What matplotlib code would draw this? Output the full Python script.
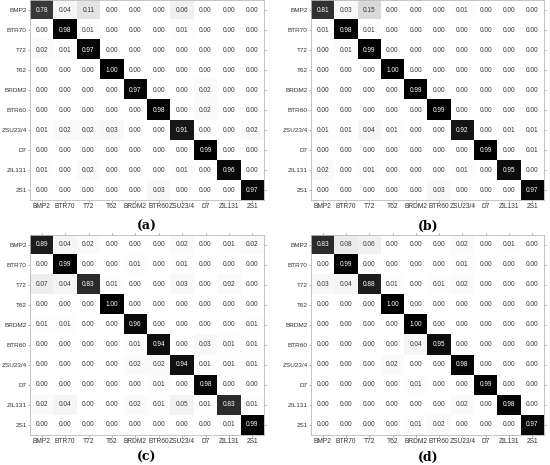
import numpy as np
import matplotlib
matplotlib.use("Agg")
from matplotlib import pyplot as plt

classes = ["BMP2", "BTR70", "T72", "T62", "BRDM2", "BTR60", "ZSU23/4", "D7", "ZIL131", "2S1"]

cm_a = [
    [0.78, 0.04, 0.11, 0.00, 0.00, 0.00, 0.06, 0.00, 0.00, 0.00],
    [0.00, 0.98, 0.01, 0.00, 0.00, 0.00, 0.01, 0.00, 0.00, 0.00],
    [0.02, 0.01, 0.97, 0.00, 0.00, 0.00, 0.00, 0.00, 0.00, 0.00],
    [0.00, 0.00, 0.00, 1.00, 0.00, 0.00, 0.00, 0.00, 0.00, 0.00],
    [0.00, 0.00, 0.00, 0.00, 0.97, 0.00, 0.00, 0.02, 0.00, 0.00],
    [0.00, 0.00, 0.00, 0.00, 0.00, 0.98, 0.00, 0.02, 0.00, 0.00],
    [0.01, 0.02, 0.02, 0.03, 0.00, 0.00, 0.91, 0.00, 0.00, 0.02],
    [0.00, 0.00, 0.00, 0.00, 0.00, 0.00, 0.00, 0.99, 0.00, 0.00],
    [0.01, 0.00, 0.02, 0.00, 0.00, 0.00, 0.01, 0.00, 0.96, 0.00],
    [0.00, 0.00, 0.00, 0.00, 0.00, 0.03, 0.00, 0.00, 0.00, 0.97],
]
cm_b = [
    [0.81, 0.03, 0.15, 0.00, 0.00, 0.00, 0.01, 0.00, 0.00, 0.00],
    [0.01, 0.98, 0.01, 0.00, 0.00, 0.00, 0.00, 0.00, 0.00, 0.00],
    [0.00, 0.01, 0.99, 0.00, 0.00, 0.00, 0.00, 0.00, 0.00, 0.00],
    [0.00, 0.00, 0.00, 1.00, 0.00, 0.00, 0.00, 0.00, 0.00, 0.00],
    [0.00, 0.00, 0.00, 0.00, 0.99, 0.00, 0.00, 0.00, 0.00, 0.00],
    [0.00, 0.00, 0.00, 0.00, 0.00, 0.99, 0.00, 0.00, 0.00, 0.00],
    [0.01, 0.01, 0.04, 0.01, 0.00, 0.00, 0.92, 0.00, 0.01, 0.01],
    [0.00, 0.00, 0.00, 0.00, 0.00, 0.00, 0.00, 0.99, 0.00, 0.01],
    [0.02, 0.00, 0.01, 0.00, 0.00, 0.00, 0.01, 0.00, 0.95, 0.00],
    [0.00, 0.00, 0.00, 0.00, 0.00, 0.03, 0.00, 0.00, 0.00, 0.97],
]
cm_c = [
    [0.89, 0.04, 0.02, 0.00, 0.00, 0.00, 0.02, 0.00, 0.01, 0.02],
    [0.00, 0.99, 0.00, 0.00, 0.01, 0.00, 0.01, 0.00, 0.00, 0.00],
    [0.07, 0.04, 0.83, 0.01, 0.00, 0.00, 0.03, 0.00, 0.02, 0.00],
    [0.00, 0.00, 0.00, 1.00, 0.00, 0.00, 0.00, 0.00, 0.00, 0.00],
    [0.01, 0.01, 0.00, 0.00, 0.96, 0.00, 0.00, 0.00, 0.00, 0.01],
    [0.00, 0.00, 0.00, 0.00, 0.01, 0.94, 0.00, 0.03, 0.01, 0.01],
    [0.00, 0.00, 0.00, 0.00, 0.02, 0.02, 0.94, 0.01, 0.01, 0.01],
    [0.00, 0.00, 0.00, 0.00, 0.00, 0.01, 0.00, 0.98, 0.00, 0.00],
    [0.02, 0.04, 0.00, 0.00, 0.02, 0.01, 0.05, 0.01, 0.83, 0.01],
    [0.00, 0.00, 0.00, 0.00, 0.00, 0.00, 0.00, 0.00, 0.01, 0.99],
]
cm_d = [
    [0.83, 0.08, 0.06, 0.00, 0.00, 0.00, 0.02, 0.00, 0.01, 0.00],
    [0.00, 0.99, 0.00, 0.00, 0.00, 0.00, 0.01, 0.00, 0.00, 0.00],
    [0.03, 0.04, 0.88, 0.01, 0.00, 0.01, 0.02, 0.00, 0.00, 0.00],
    [0.00, 0.00, 0.00, 1.00, 0.00, 0.00, 0.00, 0.00, 0.00, 0.00],
    [0.00, 0.00, 0.00, 0.00, 1.00, 0.00, 0.00, 0.00, 0.00, 0.00],
    [0.00, 0.00, 0.00, 0.00, 0.04, 0.95, 0.00, 0.00, 0.00, 0.00],
    [0.00, 0.00, 0.00, 0.02, 0.00, 0.00, 0.98, 0.00, 0.00, 0.00],
    [0.00, 0.00, 0.00, 0.00, 0.01, 0.00, 0.00, 0.99, 0.00, 0.00],
    [0.00, 0.00, 0.00, 0.00, 0.00, 0.00, 0.02, 0.00, 0.98, 0.00],
    [0.00, 0.00, 0.00, 0.00, 0.01, 0.02, 0.00, 0.00, 0.00, 0.97],
]
captions = ["(a)", "(b)", "(c)", "(d)"]

W, H = 550, 465
fig = plt.figure(figsize=(W / 100, H / 100), dpi=100)
plt.rcParams["font.family"] = "Liberation Sans"

# axes boxes in pixels: left, top, right, bottom
boxes = [(30, 0, 264, 200), (311, 0, 544, 200),
         (30, 235, 264, 435), (311, 235, 544, 435)]
cap_pos = [(147, 226), (428, 226), (147, 457), (428, 457)]

for cm, box, cap, cp in zip([cm_a, cm_b, cm_c, cm_d], boxes, captions, cap_pos):
    l, t, r, b = box
    ax = fig.add_axes([l / W, 1 - b / H, (r - l) / W, (b - t) / H])
    m = np.array(cm)
    ax.imshow(m, cmap="gray_r", vmin=0, vmax=1, aspect="auto", interpolation="nearest")
    for i in range(10):
        for j in range(10):
            v = m[i, j]
            ax.text(j, i, "%.2f" % v, ha="center", va="center", fontsize=4.7,
                    color="white" if v > 0.5 else "#333333")
    ax.set_xticks(range(10))
    ax.set_yticks(range(10))
    ax.set_xticklabels(classes, fontsize=4.8, color="#333333")
    ax.set_yticklabels(classes, fontsize=4.6, color="#333333")
    ax.tick_params(length=1.5, width=0.5, color="#888888", pad=0.8,
                   top=True, right=True, direction="out")
    for s in ax.spines.values():
        s.set_color("#bbbbbb")
        s.set_linewidth(0.6)
    fig.text(cp[0] / W, 1 - cp[1] / H, cap, ha="center", va="center",
             fontsize=9, fontweight="bold", family="DejaVu Serif")

fig.savefig("out.png", dpi=100)
